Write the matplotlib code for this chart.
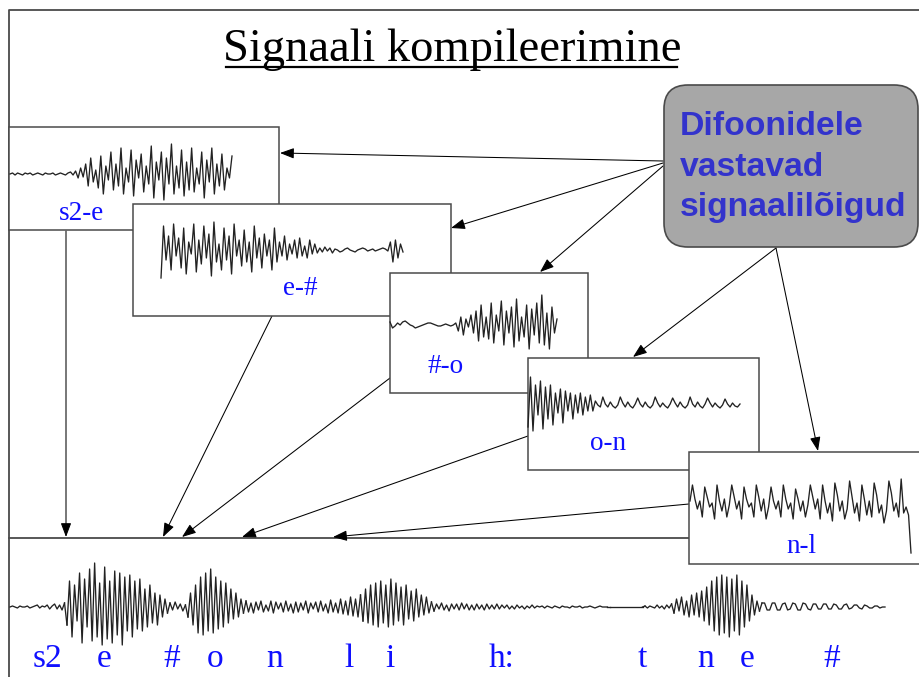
import numpy as np
import matplotlib
matplotlib.use("Agg")
import matplotlib.pyplot as plt
from matplotlib.patches import Rectangle, FancyBboxPatch

# ---- data (waveform samples, px, positive = up) ----
title = "Signaali kompileerimine"
note_lines = ["Difoonidele", "vastavad", "signaalilõigud"]

diphones = ["s2-e", "e-#", "#-o", "o-n", "n-l"]

wave_s2e = [0, 1, -1, 1, 0, -1, 1, 0, 1, -1, 0, 1, 0, -1, 1, 0, 0, 1, -1, 0, 1, 0, -1, 1, 2, -1, 3,
            -4, 6, -3, 10, -12, 16, -8, 4, -14, 18, -20, 8, -6, 22, -16, 10, -12, 26, -20, 6, -8, 24,
            -22, 14, -4, 20, -18, 8, -10, 28, -24, 12, -6, 22, -26, 16, -10, 30, -20, 8, -14, 24, -22,
            12, -16, 26, -18, 6, -10, 22, -24, 14, -8, 26, -20, 10, -12, 20, -16, 6, -4, 18]

wave_ehash = [-28, 24, -10, 14, -20, 26, -6, 12, -18, 22, -24, 8, -4, 26, -22, 10, -14, 24, -8, 16,
              -26, 28, -12, 6, -20, 22, -10, 14, -24, 26, -6, 10, -16, 20, -12, 8, -22, 24, -8, 12,
              -18, 16, -6, 10, -20, 22,
              -12, 8, -6, 14, -10, 6, -4, 10, -8, 12, -6, 4, -8, 10, -4, 6, -3,
              2, -2, 3, -1, 2, -3, 1, 0, -2, -1, 1, 2, 0, -1, -2, 0, 1, 2, 1, -1, 0, 1, -1, 0, 1, 2, 1, -1,
              8, -12, 10, -8, 6, -2]

wave_hasho = [3, -3, -1, 2, 0, 3, 4, 2, 0, -1, -3, -2, -1, 0, 1, 2, 2, 1, 0, -1, -1, 0, 1, 0, -1, 0, 2,
              -6, 8, -10, 6, -2, 10, -8, 14, -16, 20, -12, 8, -14, 22, -18, 10, -6, 24, -20, 14, -8, 18,
              -22, 26, -16, 8, -12, 20, -24, 16, -10, 22, -18, 30, -20, 12, -24, 18, -8, 6]

wave_on = [-22, 28, -26, 20, -10, 24, -24, 18, -14, 20, -20, 12, -8, 16, -18, 14, -6, 12, -14, 10, -8,
           12, -10, 8, -6, 10, -6, 4,
           0, -2, 8, 1, -2, 3, -1, -3, 0, 8, 2, -2, 3, -1, -3, 1, 7, 1, -2, 3, -1, -3, 0, 8, 2, -2, 2,
           -1, -3, 1, 7, 2, -2, 3, -1, -3, 0, 8, 1, -2, 3, -1, -3, 1, 7, 2, -2, 2, -1, -3, 0, 6, 1, -2,
           2, -1, -2, 1]

wave_nl = [2, 18, 4, -6, 2, -14, 16, 6, -4, 0, -16, 18, 2, -8, 4, -14, -2, 18, 6, -6, 2, -16, 16, 4,
           -4, 0, -14, 18, 6, -8, 4, -16, -4, 16, 2, -6, 2, -14, 18, 4, -6, 0, -16, 14, 4, -8, 2, -14,
           -2, 18, 6, -6, 4, -16, 18, 2, -10, 0, -18, 20, 8, -8, 2, -16, -6, 22, 6, -10, 0, -18, 18, 4,
           -12, 2, -14, 20, 8, -10, -2, -20, -8, 22, 10, -8, 0, -14, 24, -10, -4, -12, -50]

# full utterance, piece by piece
utt_pieces = [
    [0, 1, 0, -1, 1, 0, 0, 1, -1, 0, 1, 2, -1, 1, 0, 2, -2, 1, 3, -2, 2, -3, 4],
    [-18, 26, -30, 22, -14, 34, -36, 28, -20, 38, -34, 44, -30, 24, -38, 40, -32, 26, -36, 36, -28,
     34, -38, 30, -24, 32, -30, 26, -22, 28, -24, 18, -20, 22, -16, 14, -18, 12, -10, 8, -6],
    [4, -3, 5, -2, 3, -4, 2],
    [-10, 14, -18, 22, -26, 30, -28, 34, -24, 38, -26, 30, -22, 26, -20, 24, -16, 18, -12, 14, -10, 8, -6],
    [6, -5, 4, -6, 5, -3, 6, -5, 2, -4, 6, -6, 5, -2, 4, -5, 6, -4, 3, -6, 5, -5, 4, -3, 6, -6, 4, -2,
     5, -5, 6, -4, 3, -6, 7, -5, 4, -6, 8, -7, 6, -8, 10, -9, 8, -10, 12],
    [-14, 18, -16, 22, -18, 24, -20, 26, -16, 22, -20, 28, -18, 24, -14, 20, -18, 22, -12, 16, -14,
     18, -10, 12, -8, 10, -6, 5],
    [-4, 3, -2, 4, -3, 2, -4, 3, -2, 3, -3, 4, -2, 3, -3, 2, -3, 3, -2, 2, -3, 3, -2, 2, -2, 3, -2, 2,
     -1, 2, -2, 1, -2, 2, -1, 1, -2, 1, -1, 2, -1, 1, 0, 1, -1, 1, 0, -1, 1, 0, -1, 1, 0, 0, -1, 1, 0,
     0, 1, -1, 0, 0, 1, 0, -1, 0, 1, 0, 0, 0],
    [0, 0, 0, 0, 0, 0, 0, 0, 0, 0, 0, 0, 0, 0],
    [1, -1, 1, 0, -1, 2, -1, 1, -2, 2, -1, 3],
    [-6, 8, -4, 10, -8, 6, -10, 12, -8, 14, -10, 16, -14, 20, -18, 26, -24, 30, -28, 32, -26, 30, -30,
     28, -24, 32, -28, 26, -20, 22, -14, 12, -8, 6, -4],
    [4, 4, -3, -3, 4, 4, -3, -3, 3, 4, -3, -2, 4, 3, -3, -3, 4, 3, -2, -3, 3, 3, -2, -2, 3, 3, -2, -2,
     3, 2, -2, -2, 2, 3, -2, -1, 2, 2, -1, -2, 2, 1, -1, -1, 1, 1, -1, 0, 0],
]
utt_edges = [10, 67, 170, 188, 246, 363, 434, 610, 645, 674, 762, 885]

phones = ["s2", "e", "#", "o", "n", "l", "i", "h:", "t", "n", "e", "#"]
phone_x = [47, 104, 172, 215, 275, 349, 390, 502, 642, 706, 747, 832]

# ---- layout (pixels) ----
W, H = 919, 677
BLUE = "#1010ff"
NOTE_BLUE = "#3333cc"
EDGE = "#4a4a4a"
WAVE = "#222222"
serif = "Liberation Serif"

fig = plt.figure(figsize=(W / 100, H / 100), dpi=100)
ax = fig.add_axes([0, 0, 1, 1])
ax.set_xlim(0, W)
ax.set_ylim(H, 0)
ax.axis("off")

# outer frame
ax.plot([9, 9, W], [H, 10, 10], color=EDGE, lw=1.3, zorder=1)

# title, underlined
ax.text(452, 61, title, fontsize=33.5, family=serif, ha="center", va="baseline", zorder=2)
ax.plot([226, 677], [67, 67], color="black", lw=1.6, zorder=2)


def arrow(x0, y0, x1, y1):
    ax.annotate("", xy=(x1, y1), xytext=(x0, y0),
                arrowprops=dict(arrowstyle="-|>,head_length=0.85,head_width=0.32",
                                color="black", lw=0.75, shrinkA=0, shrinkB=0),
                zorder=2)


# boxes: x0, y0, x1, y1, wave start/end x, baseline y, label x, label baseline
boxes = [
    (9, 127, 279, 230, 10, 232, 174, 82, 220, wave_s2e),
    (133, 204, 451, 316, 161, 403, 250, 300, 295, wave_ehash),
    (390, 273, 588, 393, 390, 557, 325, 446, 373, wave_hasho),
    (528, 358, 759, 470, 528, 740, 405, 608, 450, wave_on),
    (689, 452, 930, 564, 690, 911, 503, 801, 553, wave_nl),
]

for i, (bx0, by0, bx1, by1, wx0, wx1, wy, lx, ly, wv) in enumerate(boxes):
    z = 3 + i
    ax.add_patch(Rectangle((bx0, by0), bx1 - bx0, by1 - by0, facecolor="white",
                           edgecolor=EDGE, lw=1.1, zorder=z))
    wv = np.array(wv, dtype=float)
    ax.plot(np.linspace(wx0, wx1, len(wv)), wy - wv, color=WAVE, lw=0.95, zorder=z + 0.1)
    ax.text(lx, ly, diphones[i], fontsize=19.5, family=serif, color=BLUE,
            ha="center", va="baseline", zorder=z + 0.2)

# note box
ax.add_patch(FancyBboxPatch((664, 85), 254, 162, boxstyle="round,pad=0,rounding_size=24",
                            facecolor="#a7a7a7", edgecolor=EDGE, lw=1.2, zorder=9))
for txt, yb in zip(note_lines, [135, 176, 216]):
    ax.text(680, yb, txt, fontsize=24.3, family="Liberation Sans", weight="bold",
            color=NOTE_BLUE, ha="left", va="baseline", zorder=10)

# arrows from the note to the diphone boxes
arrow(663, 161, 280, 153)
arrow(663, 163, 451, 228)
arrow(663, 166, 540, 272)
arrow(776, 248, 633, 357)
arrow(776, 248, 818, 451)

# join line and arrows down into it
ax.plot([9, 690], [538, 538], color=EDGE, lw=1.3, zorder=2)
arrow(66, 231, 66, 537)
arrow(272, 316, 163, 537)
arrow(390, 378, 182, 537)
arrow(528, 436, 242, 537)
arrow(689, 504, 333, 537)

# full compiled signal
for k, piece in enumerate(utt_pieces):
    pv = np.array(piece, dtype=float)
    last = k == len(utt_pieces) - 1
    if last:
        px = np.linspace(utt_edges[k], utt_edges[k + 1], len(pv))
    else:
        px = np.linspace(utt_edges[k], utt_edges[k + 1], len(pv) + 1)[:-1]
    ax.plot(px, 607 - pv, color=WAVE, lw=0.95, zorder=2)
    if not last:
        nxt = utt_pieces[k + 1][0]
        ax.plot([px[-1], utt_edges[k + 1]], [607 - pv[-1], 607 - nxt], color=WAVE, lw=0.95, zorder=2)

for ph, x in zip(phones, phone_x):
    ax.text(x, 667, ph, fontsize=24, family=serif, color=BLUE, ha="center", va="baseline", zorder=3)

fig.savefig("out.png", dpi=100)
